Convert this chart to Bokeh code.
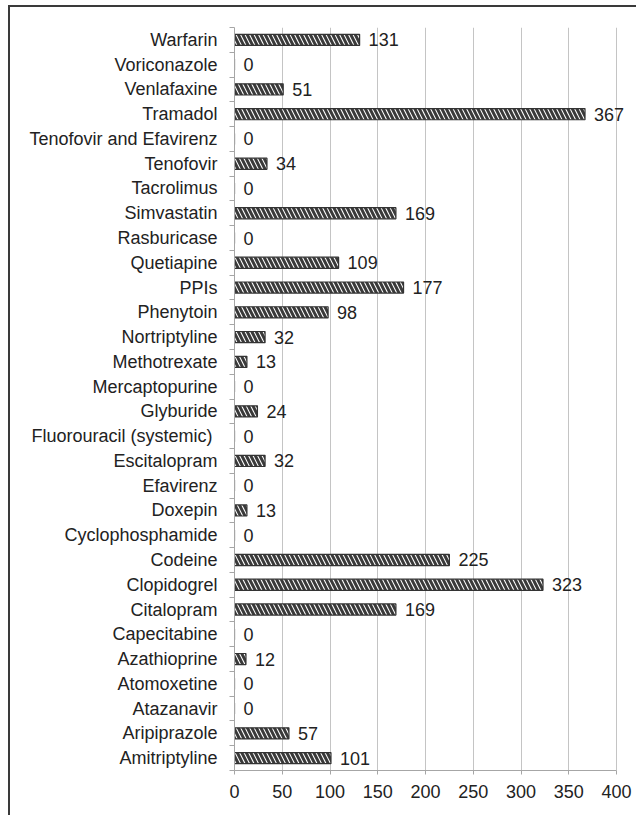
from bokeh.plotting import figure
from bokeh.models import Range1d, FixedTicker, ColumnDataSource
from bokeh.embed import file_html
from bokeh.resources import INLINE
from bokeh.core.properties import value

# Categories listed bottom to top
drugs = ["Amitriptyline", "Aripiprazole", "Atazanavir", "Atomoxetine", "Azathioprine",
         "Capecitabine", "Citalopram", "Clopidogrel", "Codeine", "Cyclophosphamide",
         "Doxepin", "Efavirenz", "Escitalopram", "Fluorouracil  (systemic)", "Glyburide",
         "Mercaptopurine", "Methotrexate", "Nortriptyline", "Phenytoin", "PPIs",
         "Quetiapine", "Rasburicase", "Simvastatin", "Tacrolimus", "Tenofovir",
         "Tenofovir and Efavirenz", "Tramadol", "Venlafaxine", "Voriconazole", "Warfarin"]
counts = [101, 57, 0, 0, 12, 0, 169, 323, 225, 0, 13, 0, 32, 0, 24, 0, 13, 32, 98, 177,
          109, 0, 169, 0, 34, 0, 367, 51, 0, 131]
x_ticks = [0, 50, 100, 150, 200, 250, 300, 350, 400]

FONT = "Liberation Sans"
idx = list(range(len(drugs)))
src = ColumnDataSource(dict(y=idx, v=counts, lab=[str(c) for c in counts]))

p = figure(width=628, height=810, output_backend="svg", toolbar_location=None,
           x_range=Range1d(0, 423.0), y_range=Range1d(-0.5, len(drugs) - 0.5),
           min_border_left=224, min_border_right=0, min_border_top=20, min_border_bottom=47,
           styles={"border-top": "2px solid #3a3a3a", "border-left": "2px solid #3a3a3a",
                   "margin-left": "8px", "margin-top": "5px"})
p.outline_line_color = None
p.background_fill_color = "white"
p.border_fill_color = "white"

p.hbar(y="y", right="v", left=0, height=0.45, source=src,
       fill_color="white", line_color="#333333", line_width=1.2,
       hatch_pattern="left_diagonal_line", hatch_color="#3a3a3a",
       hatch_scale=9, hatch_weight=3)

p.text(x="v", y="y", text="lab", source=src, x_offset=9, text_baseline="middle",
       text_align="left", text_font=value(FONT), text_font_size="18px", text_color="#222222")

# x axis
p.xaxis.ticker = FixedTicker(ticks=x_ticks)
p.xaxis.bounds = (0, 400)
p.xaxis.axis_line_color = "#a6a6a6"
p.xaxis.major_tick_line_color = "#a6a6a6"
p.xaxis.major_tick_out = 4
p.xaxis.major_tick_in = 0
p.xaxis.minor_tick_line_color = None
p.xaxis.major_label_text_font = FONT
p.xaxis.major_label_text_font_size = "18px"
p.xaxis.major_label_text_color = "#222222"
p.xaxis.major_label_standoff = 10

p.xgrid.ticker = FixedTicker(ticks=x_ticks)
p.xgrid.grid_line_color = "#c4c4c4"
p.xgrid.grid_line_width = 1
p.ygrid.grid_line_color = None

# y axis: labels at centers, tick marks at boundaries
p.yaxis.ticker = FixedTicker(ticks=idx, minor_ticks=[i - 0.5 for i in range(len(drugs) + 1)])
p.yaxis.major_label_overrides = {i: d for i, d in enumerate(drugs)}
p.yaxis.axis_line_color = "#a6a6a6"
p.yaxis.major_tick_line_color = None
p.yaxis.major_tick_out = 0
p.yaxis.major_tick_in = 0
p.yaxis.minor_tick_line_color = "#a6a6a6"
p.yaxis.minor_tick_out = 5
p.yaxis.minor_tick_in = 0
p.yaxis.major_label_text_font = FONT
p.yaxis.major_label_text_font_size = "18px"
p.yaxis.major_label_text_color = "#222222"
p.yaxis.major_label_standoff = 12

open("out.html", "w").write(file_html(p, INLINE))
